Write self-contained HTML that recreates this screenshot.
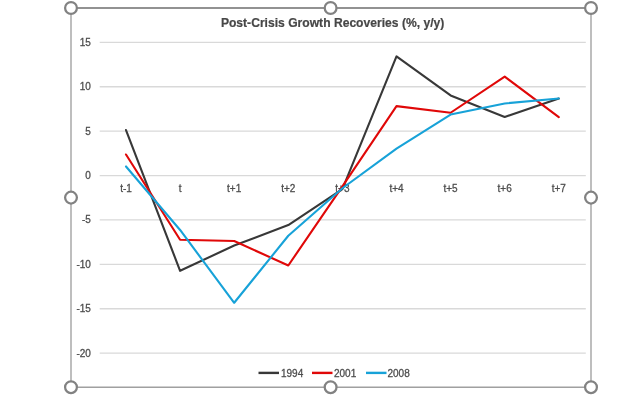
<!DOCTYPE html>
<html><head><meta charset="utf-8"><style>
html,body{margin:0;padding:0;background:#fff;width:640px;height:400px;overflow:hidden}
svg{display:block;will-change:transform}
text{font-family:"Liberation Sans",sans-serif}
.ax{font-size:10px;fill:#4d4d4d;stroke:#4d4d4d;stroke-width:0.28}
.title{font-size:12px;font-weight:bold;fill:#474747;stroke:#474747;stroke-width:0.2}
</style></head><body>
<svg width="640" height="400" viewBox="0 0 640 400">
<rect x="0" y="0" width="640" height="400" fill="#fff"/>
<line x1="71" y1="8.1" x2="591" y2="8.1" stroke="#929292" stroke-width="2"/>
<line x1="71" y1="387.3" x2="591" y2="387.3" stroke="#a0a0a0" stroke-width="1.6"/>
<line x1="71" y1="8" x2="71" y2="387" stroke="#aeaeae" stroke-width="1.6"/>
<line x1="591" y1="8" x2="591" y2="387" stroke="#aeaeae" stroke-width="1.6"/>
<text x="332.6" y="26.6" text-anchor="middle" class="title" style="font-size:12.12px">Post-Crisis Growth Recoveries (%, y/y)</text>
<line x1="99.7" y1="42.35" x2="585.8" y2="42.35" stroke="#d9d9d9" stroke-width="1.3"/>
<text x="90.9" y="45.80" text-anchor="end" class="ax">15</text>
<line x1="99.7" y1="86.75" x2="585.8" y2="86.75" stroke="#d9d9d9" stroke-width="1.3"/>
<text x="90.9" y="90.20" text-anchor="end" class="ax">10</text>
<line x1="99.7" y1="131.15" x2="585.8" y2="131.15" stroke="#d9d9d9" stroke-width="1.3"/>
<text x="90.9" y="134.60" text-anchor="end" class="ax">5</text>
<line x1="99.7" y1="175.55" x2="585.8" y2="175.55" stroke="#d9d9d9" stroke-width="1.3"/>
<text x="90.9" y="179.00" text-anchor="end" class="ax">0</text>
<line x1="99.7" y1="219.95" x2="585.8" y2="219.95" stroke="#d9d9d9" stroke-width="1.3"/>
<text x="90.9" y="223.40" text-anchor="end" class="ax">-5</text>
<line x1="99.7" y1="264.35" x2="585.8" y2="264.35" stroke="#d9d9d9" stroke-width="1.3"/>
<text x="90.9" y="267.80" text-anchor="end" class="ax">-10</text>
<line x1="99.7" y1="308.75" x2="585.8" y2="308.75" stroke="#d9d9d9" stroke-width="1.3"/>
<text x="90.9" y="312.20" text-anchor="end" class="ax">-15</text>
<line x1="99.7" y1="353.15" x2="585.8" y2="353.15" stroke="#d9d9d9" stroke-width="1.3"/>
<text x="90.9" y="356.60" text-anchor="end" class="ax">-20</text>
<text x="126.00" y="191.7" text-anchor="middle" class="ax">t-1</text>
<text x="180.10" y="191.7" text-anchor="middle" class="ax">t</text>
<text x="234.20" y="191.7" text-anchor="middle" class="ax">t+1</text>
<text x="288.30" y="191.7" text-anchor="middle" class="ax">t+2</text>
<text x="342.40" y="191.7" text-anchor="middle" class="ax">t+3</text>
<text x="396.50" y="191.7" text-anchor="middle" class="ax">t+4</text>
<text x="450.60" y="191.7" text-anchor="middle" class="ax">t+5</text>
<text x="504.70" y="191.7" text-anchor="middle" class="ax">t+6</text>
<text x="558.80" y="191.7" text-anchor="middle" class="ax">t+7</text>
<polyline points="126.00,130.07 180.10,270.82 234.20,245.51 288.30,225.08 342.40,189.12 396.50,56.36 450.60,95.44 504.70,116.93 558.80,98.54" fill="none" stroke="#383838" stroke-width="2.1" stroke-linejoin="round" stroke-linecap="round"/>
<polyline points="126.00,154.49 180.10,239.74 234.20,241.07 288.30,265.49 342.40,186.46 396.50,106.09 450.60,112.75 504.70,76.61 558.80,117.19" fill="none" stroke="#e00808" stroke-width="2.1" stroke-linejoin="round" stroke-linecap="round"/>
<polyline points="126.00,166.48 180.10,229.97 234.20,302.78 288.30,235.74 342.40,188.23 396.50,148.72 450.60,114.53 504.70,103.43 558.80,98.54" fill="none" stroke="#17a2d8" stroke-width="2.1" stroke-linejoin="round" stroke-linecap="round"/>
<line x1="258.5" y1="372.9" x2="279.0" y2="372.9" stroke="#383838" stroke-width="2.4"/>
<text x="281.0" y="376.5" class="ax">1994</text>
<line x1="312.0" y1="372.9" x2="332.5" y2="372.9" stroke="#e00808" stroke-width="2.4"/>
<text x="334.0" y="376.5" class="ax">2001</text>
<line x1="366.0" y1="372.9" x2="386.5" y2="372.9" stroke="#17a2d8" stroke-width="2.4"/>
<text x="387.5" y="376.5" class="ax">2008</text>
<circle cx="71" cy="8" r="5.9" fill="#fff" stroke="#828282" stroke-width="2.25"/>
<circle cx="71" cy="197.6" r="5.9" fill="#fff" stroke="#828282" stroke-width="2.25"/>
<circle cx="71" cy="387.2" r="5.9" fill="#fff" stroke="#828282" stroke-width="2.25"/>
<circle cx="330.6" cy="8" r="5.9" fill="#fff" stroke="#828282" stroke-width="2.25"/>
<circle cx="330.6" cy="387.2" r="5.9" fill="#fff" stroke="#828282" stroke-width="2.25"/>
<circle cx="591" cy="8" r="5.9" fill="#fff" stroke="#828282" stroke-width="2.25"/>
<circle cx="591" cy="197.6" r="5.9" fill="#fff" stroke="#828282" stroke-width="2.25"/>
<circle cx="591" cy="387.2" r="5.9" fill="#fff" stroke="#828282" stroke-width="2.25"/>
</svg>
</body></html>
